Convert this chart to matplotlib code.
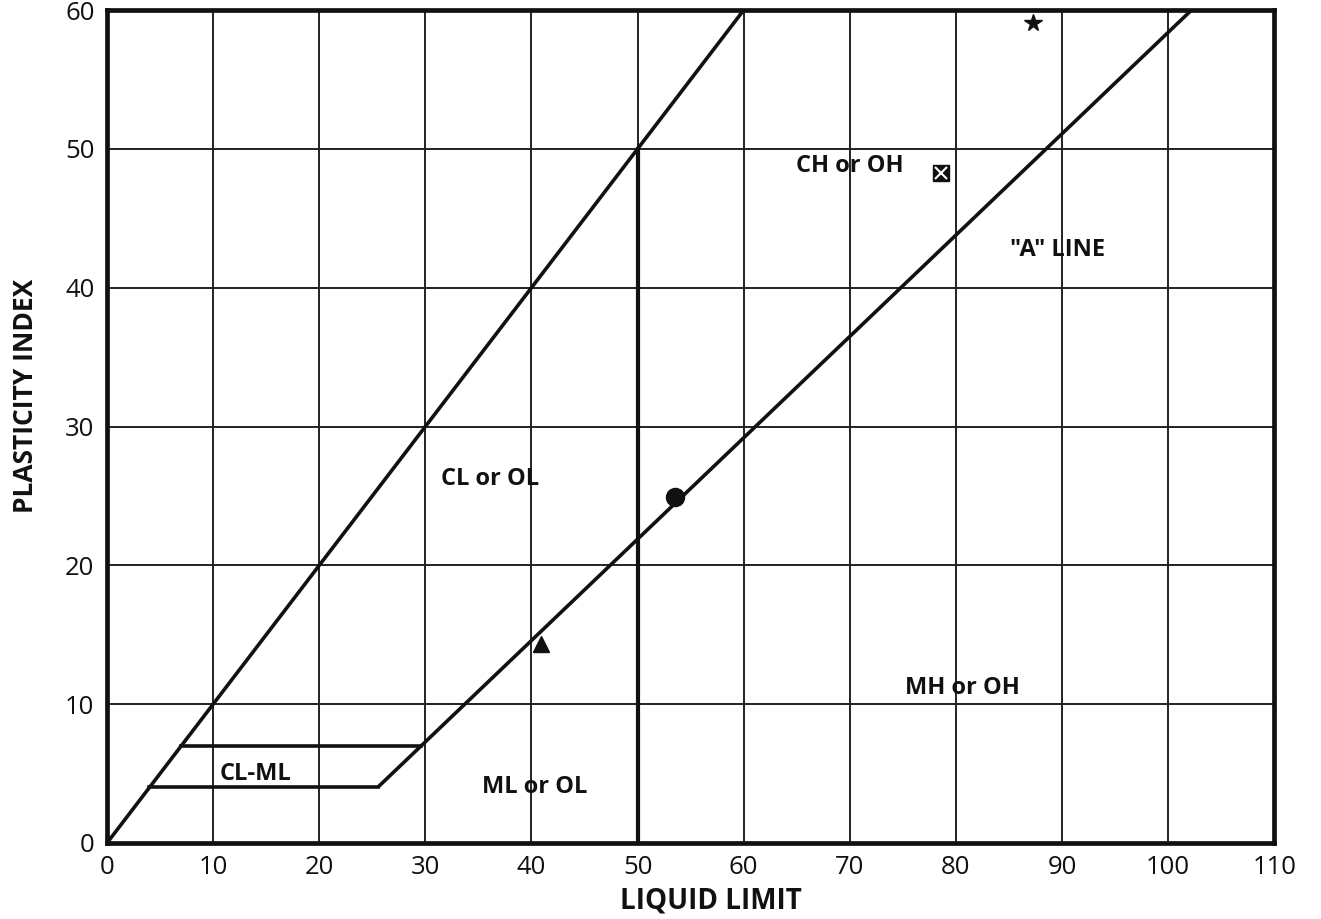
import matplotlib
matplotlib.use("Agg")
import matplotlib.pyplot as plt
import numpy as np

# Plasticity chart data
x_ticks = [0, 10, 20, 30, 40, 50, 60, 70, 80, 90, 100, 110]
y_ticks = [0, 10, 20, 30, 40, 50, 60]

# Upper limit line (PI = LL)
u_line_ll = [0, 60]
u_line_pi = [0, 60]

# "A" line: PI = 0.73 (LL - 20), drawn from PI = 4 to the top of the chart
a_line_ll = [25.5, 102.2]
a_line_pi = [4.0, 60.0]

# CL-ML band boundaries
clml_upper_ll = [7, 29.6]
clml_upper_pi = [7, 7]
clml_lower_ll = [4, 25.5]
clml_lower_pi = [4, 4]

# LL = 50 divider
div_ll = [50, 50]
div_pi = [0, 50]

# Sample points
sample_ll = [87.3, 78.6, 53.5, 40.9]
sample_pi = [59.1, 48.3, 24.9, 14.3]
sample_markers = ["*", "X", "o", "^"]

# Zone labels
zone_text = ["CH or OH", '"A" LINE', "CL or OL", "MH or OH", "CL-ML", "ML or OL"]
zone_ll = [70.0, 89.6, 36.1, 80.6, 14.0, 40.3]
zone_pi = [48.8, 42.7, 26.2, 11.2, 5.0, 4.0]

plt.rcParams['font.family'] = ['Open Sans', 'DejaVu Sans']

fig = plt.figure(figsize=(13.21, 9.19), dpi=100)
ax = fig.add_axes([0.081, 0.0827, 0.8836, 0.9063])

ax.set_xlim(0, 110)
ax.set_ylim(0, 60)
ax.set_xticks(x_ticks)
ax.set_yticks(y_ticks)
ax.grid(True, color="#222222", linewidth=1.4)
ax.set_axisbelow(True)
ax.tick_params(length=0, labelsize=18.5, pad=9, colors="#111111")

for s in ax.spines.values():
    s.set_linewidth(3.4)
    s.set_color("#111111")

lw = 2.6
ax.plot(u_line_ll, u_line_pi, color="#111111", lw=lw, solid_capstyle="butt")
ax.plot(a_line_ll, a_line_pi, color="#111111", lw=lw, solid_capstyle="butt")
ax.plot(clml_upper_ll, clml_upper_pi, color="#111111", lw=lw)
ax.plot(clml_lower_ll, clml_lower_pi, color="#111111", lw=lw)
ax.plot(div_ll, div_pi, color="#111111", lw=lw + 0.4)

sizes = {"*": 13, "X": 11, "o": 13, "^": 11}
for xv, yv, m in zip(sample_ll, sample_pi, sample_markers):
    if m == "X":
        ax.plot(xv, yv, marker="s", ms=11, color="#111111", mec="#111111")
        ax.plot(xv, yv, marker="x", ms=8, color="white", mew=1.5)
    else:
        ax.plot(xv, yv, marker=m, ms=sizes[m], color="#111111", mec="#111111")

for t, xv, yv in zip(zone_text, zone_ll, zone_pi):
    ax.text(xv, yv, t, ha="center", va="center", fontsize=17,
            fontweight="bold", color="#111111")

ax.set_xlabel("LIQUID LIMIT", fontsize=20, fontweight="bold", labelpad=4,
              color="#111111")
ax.set_ylabel("PLASTICITY INDEX", fontsize=19, fontweight="bold", labelpad=19,
              color="#111111")
ax.xaxis.label.set_x(0.517)
ax.yaxis.label.set_y(0.537)

fig.savefig("out.png", dpi=100)
